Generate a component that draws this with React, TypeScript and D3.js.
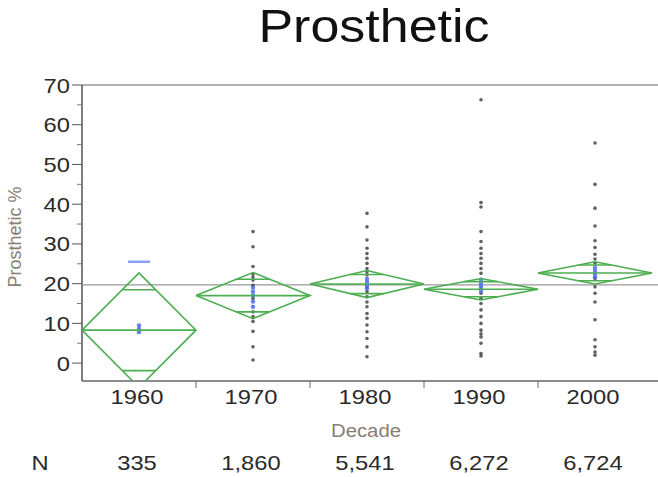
import React from "react";
import * as d3 from "d3";

// decades on the x axis and their N counts
const decades = ["1960", "1970", "1980", "1990", "2000"];
const counts = ["335", "1,860", "5,541", "6,272", "6,724"];

// means diamonds: group mean and 95% CI half width
const means = [8.3, 17.0, 19.9, 18.6, 22.7];
const ciHalf = [14.4, 5.8, 3.4, 2.7, 2.8];
const grandMean = 19.7;

// individual points (grey)
const pts1960: number[] = [];
const pts1970 = [33.1, 29.3, 24.3, 22.5, 21.7, 20.9, 19.6, 16.3, 12.9, 11.7, 10.5, 8.0, 4.1, 0.8];
const pts1980 = [37.7, 34.3, 31.0, 28.9, 27.6, 26.4, 25.1, 23.8, 23.0, 22.2, 19.1, 18.0, 16.7, 15.4, 14.2, 12.5, 11.3, 9.6, 7.9, 6.2, 4.1, 1.6];
const pts1990 = [66.3, 40.4, 39.3, 33.1, 30.6, 28.9, 27.6, 26.4, 25.1, 23.8, 22.6, 18.8, 17.6, 16.3, 15.0, 13.4, 11.7, 10.0, 8.3, 7.4, 6.6, 5.0, 2.4, 1.8];
const pts2000 = [55.4, 45.0, 39.0, 34.5, 30.8, 29.1, 27.4, 26.2, 25.1, 21.3, 19.2, 17.6, 15.4, 10.9, 5.9, 4.1, 2.8, 2.0];

// highlighted points (blue)
const blue1960 = [9.5, 8.6, 7.8];
const blue1970 = [19.0, 18.0, 17.1, 15.5, 14.2];
const blue1980 = [21.2, 20.4, 19.6, 18.8];
const blue1990 = [21.0, 20.0, 19.2, 18.2];
const blue2000 = [24.0, 23.2, 22.4, 21.6];
const blueDash = [{ decade: "1960", value: 25.5 }];

const yTicks = [0, 10, 20, 30, 40, 50, 60, 70];

const points = [pts1960, pts1970, pts1980, pts1990, pts2000];
const bluePoints = [blue1960, blue1970, blue1980, blue1990, blue2000];

const W = 658;
const H = 477;
const left = 82;
const right = 652;
const top = 85;
const bottom = 381;

const green = "#4cae50";
const labelColor = "#8a7e73";
const font = "Liberation Sans, Arial, sans-serif";
const stretch = 1.13;

// text stretched horizontally like the source picture
const T = ({ x, y, size, anchor = "middle", fill = "#222", children }: any) => (
  <text
    transform={`translate(${x},${y}) scale(${stretch},1)`}
    fontSize={size}
    textAnchor={anchor}
    fill={fill}
    fontFamily={font}
  >
    {children}
  </text>
);

const App = () => {
  const x = d3.scaleBand().domain(decades).range([left, right]).padding(0);
  const y = d3.scaleLinear().domain([-4.5, 70]).range([bottom, top]);
  const bw = x.bandwidth();
  const minorTicks = d3.range(5, 70, 10);
  const line = d3.line<[number, number]>();

  return (
    <svg width={W} height={H} style={{ position: "absolute", left: 0, top: 0 }}>
      <defs>
        <clipPath id="plot">
          <rect x={left} y={top} width={W - left} height={bottom - top} />
        </clipPath>
      </defs>

      {/* title */}
      <T x={374} y={42} size={46} fill="#111">Prosthetic</T>

      {/* frame */}
      <line x1={left} x2={W} y1={top} y2={top} stroke="#999" strokeWidth={1.5} />
      <line x1={left} x2={W} y1={bottom} y2={bottom} stroke="#666" strokeWidth={1.5} />
      <line x1={left} x2={left} y1={top} y2={bottom} stroke="#555" strokeWidth={1.5} />

      {/* y axis */}
      {yTicks.map((t) => (
        <g key={t}>
          <line x1={left - 10} x2={left} y1={y(t)} y2={y(t)} stroke="#555" />
          <T x={70} y={y(t) + 7.5} size={21} anchor="end" fill="#2a2a2a">{t}</T>
        </g>
      ))}
      {minorTicks.map((t) => (
        <line key={t} x1={left - 5} x2={left} y1={y(t)} y2={y(t)} stroke="#777" />
      ))}
      <text
        transform={`translate(21,${(top + bottom) / 2 + 4}) rotate(-90)`}
        fontSize={18}
        textAnchor="middle"
        fill={labelColor}
        fontFamily={font}
      >
        Prosthetic %
      </text>

      {/* x axis */}
      {decades.slice(1).map((d) => (
        <line key={d} x1={x(d)!} x2={x(d)!} y1={bottom} y2={bottom + 7} stroke="#666" />
      ))}
      {decades.map((d, i) => (
        <g key={d}>
          <T x={x(d)! + bw / 2 - 2} y={404} size={21} fill="#2a2a2a">{d}</T>
          <T x={x(d)! + bw / 2 - 2} y={470} size={21} fill="#2a2a2a">{counts[i]}</T>
        </g>
      ))}
      <T x={366} y={437} size={18} fill={labelColor}>Decade</T>
      <T x={40} y={470} size={21} fill="#2a2a2a">N</T>

      {/* grand mean */}
      <line x1={left} x2={W} y1={y(grandMean)} y2={y(grandMean)} stroke="#9a9a9a" strokeWidth={1.3} />

      <g clipPath="url(#plot)">
        {/* points */}
        {decades.map((d, i) =>
          points[i].map((v, j) => (
            <circle key={d + j} cx={x(d)! + bw / 2} cy={y(v)} r={1.8} fill="#3a3a3a" opacity={0.8} />
          ))
        )}
        {decades.map((d, i) =>
          bluePoints[i].map((v, j) => (
            <circle key={"b" + d + j} cx={x(d)! + bw / 2} cy={y(v)} r={2.2} fill="#4a6cf0" opacity={0.85} />
          ))
        )}
        {blueDash.map((b) => (
          <line
            key={b.decade}
            x1={x(b.decade)! + bw / 2 - 11}
            x2={x(b.decade)! + bw / 2 + 11}
            y1={y(b.value)}
            y2={y(b.value)}
            stroke="#8a9cf5"
            strokeWidth={2.5}
          />
        ))}

        {/* means diamonds */}
        {decades.map((d, i) => {
          const x0 = x(d)!;
          const xc = x0 + bw / 2;
          const x1 = x0 + bw;
          const m = means[i];
          const h = ciHalf[i];
          const o = h / Math.SQRT2;
          const ow = (bw / 2) * (1 - 1 / Math.SQRT2);
          return (
            <g key={"dm" + d} fill="none" stroke={green} strokeWidth={1.6}>
              <path
                d={line([
                  [x0, y(m)],
                  [xc, y(m + h)],
                  [x1, y(m)],
                  [xc, y(m - h)],
                  [x0, y(m)],
                ])!}
              />
              <line x1={x0} x2={x1} y1={y(m)} y2={y(m)} />
              <line x1={xc - ow} x2={xc + ow} y1={y(m + o)} y2={y(m + o)} />
              <line x1={xc - ow} x2={xc + ow} y1={y(m - o)} y2={y(m - o)} />
            </g>
          );
        })}
      </g>
    </svg>
  );
};

export default App;
